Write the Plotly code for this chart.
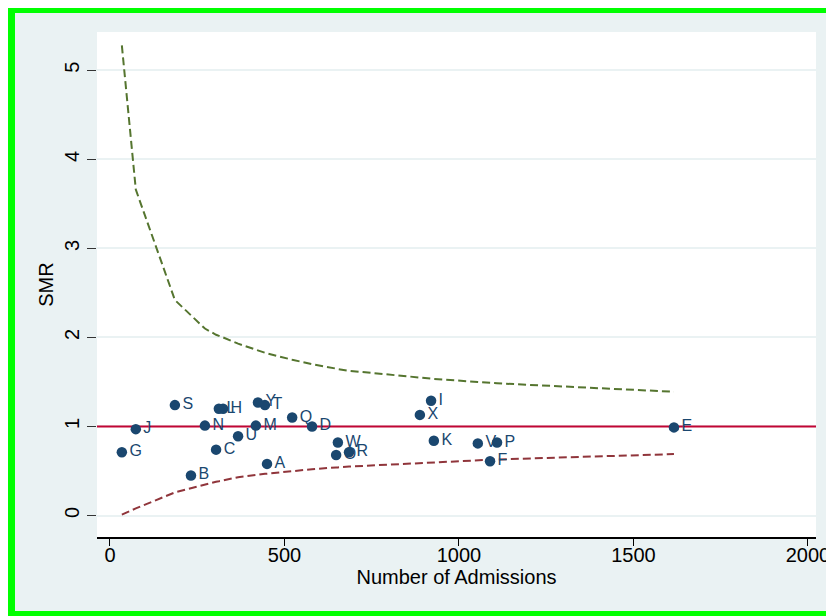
import plotly.graph_objects as go

# ---- data ----
hospitals = ["A", "B", "C", "D", "E", "F", "G", "H", "I", "J", "K", "L", "M",
             "N", "O", "P", "Q", "R", "S", "T", "U", "V", "W", "X", "Y"]
admissions = [450, 232, 304, 579, 1616, 1089, 34, 324, 920, 74, 928, 312, 418,
              272, 648, 1109, 522, 685, 186, 444, 367, 1054, 653, 888, 424]
smr = [0.58, 0.45, 0.74, 1.00, 0.99, 0.61, 0.71, 1.20, 1.29, 0.97, 0.84, 1.20, 1.01,
       1.01, 0.68, 0.82, 1.10, 0.71, 1.24, 1.24, 0.89, 0.81, 0.82, 1.13, 1.27]

# funnel control limits, evaluated at each hospital's admissions (sorted)
limit_n = [34, 74, 186, 232, 272, 304, 312, 324, 367, 418, 424, 444, 450,
           522, 579, 648, 653, 685, 888, 920, 928, 1054, 1089, 1109, 1616]
upper_limit = [5.28, 3.66, 2.42, 2.25, 2.10, 2.03, 2.02, 2.00, 1.93, 1.86, 1.85, 1.83, 1.82,
               1.75, 1.70, 1.65, 1.645, 1.625, 1.55, 1.54, 1.535, 1.50, 1.49, 1.485, 1.39]
lower_limit = [0.01, 0.08, 0.26, 0.31, 0.35, 0.38, 0.385, 0.395, 0.43, 0.455, 0.46, 0.47, 0.47,
               0.50, 0.52, 0.54, 0.54, 0.55, 0.59, 0.60, 0.60, 0.62, 0.625, 0.63, 0.69]
target = 1

x_ticks = [0, 500, 1000, 1500, 2000]
y_ticks = [0, 1, 2, 3, 4, 5]
x_range = [-37.2, 2023]
y_range = [-0.241, 5.43]

# ---- styling ----
OFF = 8                      # page body margin in the browser
W, H = 834 - OFF, 616 - OFF
ML, MR, MT, MB = 89, 18, 24, 79
PW, PH = W - ML - MR, H - MT - MB
NAVY = "#1a476f"
MAROON = "#90353b"
FGREEN = "#55752f"
CRAN = "#c10534"
BG = "#eaf2f3"
LIME = "#00ff00"
FONT = "Liberation Sans, Arial, sans-serif"


def fx(p):
    # p: horizontal position in figure pixels -> paper fraction
    return (p - ML) / PW


def fy(p):
    # p: vertical position in figure pixels (from top) -> paper fraction
    return (H - MB - p) / PH


fig = go.Figure()

fig.add_trace(go.Scatter(
    x=x_range, y=[target, target], mode="lines",
    line=dict(color=CRAN, width=2),
    showlegend=False, hoverinfo="skip"))
fig.add_trace(go.Scatter(
    x=limit_n, y=upper_limit, mode="lines",
    line=dict(color=FGREEN, width=2, dash="8px,4px"),
    showlegend=False, hoverinfo="skip"))
fig.add_trace(go.Scatter(
    x=limit_n, y=lower_limit, mode="lines",
    line=dict(color=MAROON, width=2, dash="8px,4px"),
    showlegend=False, hoverinfo="skip"))
fig.add_trace(go.Scatter(
    x=admissions, y=smr, mode="markers+text", text=hospitals,
    textposition="middle right",
    textfont=dict(family=FONT, size=16, color=NAVY),
    marker=dict(color=NAVY, size=10.5),
    showlegend=False))

# green frame on the top, left and bottom edges, kept inside the figure
frame = dict(type="rect", xref="paper", yref="paper", layer="below",
             fillcolor=LIME, line=dict(width=0))
shapes = [
    dict(frame, x0=fx(0), x1=fx(W), y0=fy(0), y1=fy(5)),        # top
    dict(frame, x0=fx(0), x1=fx(7), y0=fy(0), y1=fy(H)),        # left
    dict(frame, x0=fx(0), x1=fx(W), y0=fy(H - 5), y1=fy(H)),    # bottom
]

fig.update_layout(
    width=W, height=H,
    margin=dict(l=ML, r=MR, t=MT, b=MB, pad=0),
    paper_bgcolor=BG, plot_bgcolor="white",
    font=dict(family=FONT, size=20, color="black"),
    showlegend=False,
    shapes=shapes,
    xaxis=dict(
        range=x_range, tickvals=x_ticks, ticks="outside", ticklen=7,
        tickcolor="black", tickwidth=1.2,
        showline=True, linecolor="black", linewidth=1.5,
        showgrid=False, zeroline=False,
        tickfont=dict(size=20), ticklabelstandoff=-8,
        title=dict(text="Number of Admissions", font=dict(size=20), standoff=0),
        automargin=False),
    yaxis=dict(
        range=y_range, tickvals=y_ticks, ticks="outside", ticklen=9,
        tickcolor="#333333", tickwidth=1.2, tickangle=-90,
        showline=False, showgrid=True, gridcolor=BG, gridwidth=1.5,
        zeroline=False,
        tickfont=dict(size=20),
        title=dict(text="SMR", font=dict(size=20), standoff=2),
        automargin=False),
)

fig.write_html("out.html")
